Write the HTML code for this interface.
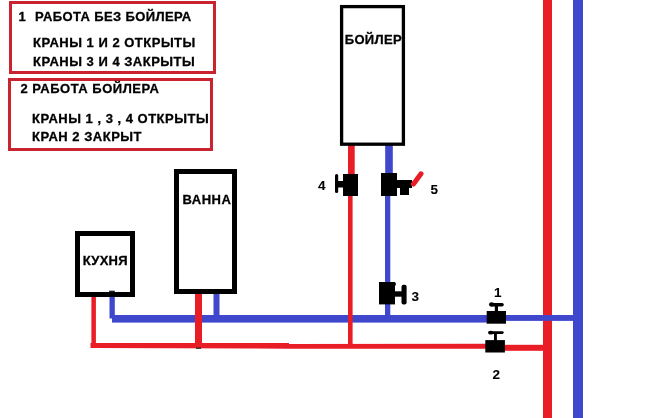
<!DOCTYPE html>
<html><head><meta charset="utf-8">
<style>
html,body{margin:0;padding:0;background:#fff;}
body{width:657px;height:418px;position:relative;overflow:hidden;}
svg{position:absolute;left:0;top:0;will-change:transform;}
.t{font-family:"Liberation Sans",sans-serif;font-weight:bold;fill:#000;letter-spacing:0.5px;stroke:#000;stroke-width:0.3px;}
</style></head><body>
<svg width="657" height="418" viewBox="0 0 657 418">
<!-- info boxes -->
<rect x="10.5" y="2.5" width="204" height="70" fill="none" stroke="#c9232f" stroke-width="3"/>
<rect x="9.5" y="79.5" width="202" height="70" fill="none" stroke="#c9232f" stroke-width="3"/>
<g class="t" font-size="13">
<text x="18.5" y="20.5">1</text>
<text x="35" y="20.5" style="letter-spacing:0.38px">РАБОТА БЕЗ БОЙЛЕРА</text>
<text x="33" y="47">КРАНЫ 1 И 2 ОТКРЫТЫ</text>
<text x="33" y="65.5">КРАНЫ 3 И 4 ЗАКРЫТЫ</text>
<text x="20.5" y="93.3">2 РАБОТА БОЙЛЕРА</text>
<text x="32" y="122.5">КРАНЫ 1 , 3 , 4 ОТКРЫТЫ</text>
<text x="32" y="140.8">КРАН 2 ЗАКРЫТ</text>
</g>
<!-- right vertical pipes -->
<rect x="543" y="0" width="9" height="418" fill="#e91d25"/>
<rect x="573" y="0" width="10" height="418" fill="#3f48cc"/>
<!-- blue horizontal -->
<rect x="112" y="315" width="375" height="7.6" fill="#3f48cc"/>
<rect x="505" y="315" width="68" height="5.9" fill="#3f48cc"/>
<!-- red horizontal -->
<polygon points="90.5,343 289,343 289,343.9 487,343.8 487,348.8 289,348.7 90.5,348" fill="#e91d25"/>
<rect x="504" y="344.8" width="39" height="6" fill="#e91d25"/>
<!-- kuhnya pipes -->
<rect x="91.4" y="296" width="4.5" height="51" fill="#e91d25"/>
<rect x="109.5" y="291" width="5.3" height="27.5" fill="#3f48cc"/>
<!-- vanna pipes -->
<rect x="213.5" y="293" width="6" height="24" fill="#3f48cc"/>
<rect x="195" y="293" width="7" height="55" fill="#e91d25"/>
<!-- boiler pipes -->
<rect x="385.2" y="145" width="7.6" height="30" fill="#3f48cc"/>
<rect x="385" y="195" width="5.3" height="121" fill="#3f48cc"/>
<rect x="348" y="145" width="6.7" height="30" fill="#e91d25"/>
<rect x="348" y="195" width="4.6" height="153" fill="#e91d25"/>
<!-- boxes -->
<rect x="341.6" y="6.6" width="61.8" height="137.6" fill="#fff" stroke="#000" stroke-width="3.3"/>
<rect x="176.5" y="171.5" width="58" height="120" fill="#fff" stroke="#000" stroke-width="5"/>
<rect x="77.5" y="233.5" width="55" height="61" fill="#fff" stroke="#000" stroke-width="5"/>
<g class="t" font-size="13" letter-spacing="0.3">
<text x="344.8" y="43.8" style="letter-spacing:0.3px">БОЙЛЕР</text>
</g>
<g class="t" font-size="13">
<text x="182.5" y="203.7">ВАННА</text>
<text x="82.7" y="264.8" style="letter-spacing:0.3px">КУХНЯ</text>
</g>
<rect x="109.1" y="290.7" width="5.7" height="1.6" fill="#1a1a30"/>
<rect x="196" y="347.5" width="5" height="1.3" fill="#222"/>
<!-- valve 4 -->
<rect x="343" y="174" width="15" height="22" fill="#000"/>
<rect x="335" y="174" width="3.2" height="19" rx="1.6" fill="#000"/>
<rect x="337" y="181" width="7" height="6.5" fill="#000"/>
<!-- valve 5 -->
<rect x="381" y="173" width="16" height="23" fill="#000"/>
<rect x="396" y="180" width="16" height="8" fill="#000"/>
<rect x="400" y="180" width="9" height="15" fill="#000"/>
<line x1="413.5" y1="184" x2="421" y2="173.8" stroke="#e91d25" stroke-width="5" stroke-linecap="round"/>
<!-- valve 3 -->
<rect x="379" y="282" width="16" height="22.4" fill="#000"/>
<rect x="394" y="291.3" width="9" height="5.4" fill="#000"/>
<rect x="401.5" y="284.8" width="5.1" height="19.7" rx="2" fill="#000"/>
<rect x="394" y="282.7" width="1.8" height="2.8" fill="#000"/>
<!-- valve 1 -->
<rect x="486.7" y="311" width="19.3" height="12.7" fill="#000"/>
<rect x="494.8" y="305" width="3.2" height="7" fill="#000"/>
<rect x="489.5" y="303" width="14.3" height="3.5" rx="1.7" fill="#000"/>
<ellipse cx="491.6" cy="304.4" rx="2.6" ry="2.1" fill="#000"/>
<!-- valve 2 -->
<rect x="485.3" y="340.1" width="19.6" height="12.4" fill="#000"/>
<rect x="494" y="333" width="2.9" height="8" fill="#000"/>
<rect x="488.5" y="331.2" width="15.2" height="2.8" rx="1.4" fill="#000"/>
<ellipse cx="490.8" cy="332.7" rx="2.7" ry="1.9" fill="#000"/>
<!-- labels -->
<g class="t" font-size="13.5" style="stroke-width:0.1px;letter-spacing:0">
<text x="318" y="190">4</text>
<text x="430.6" y="193.7">5</text>
<text x="411.6" y="300.5">3</text>
<text x="494" y="296.5">1</text>
<text x="492.6" y="378.9">2</text>
</g>
</svg>
</body></html>
